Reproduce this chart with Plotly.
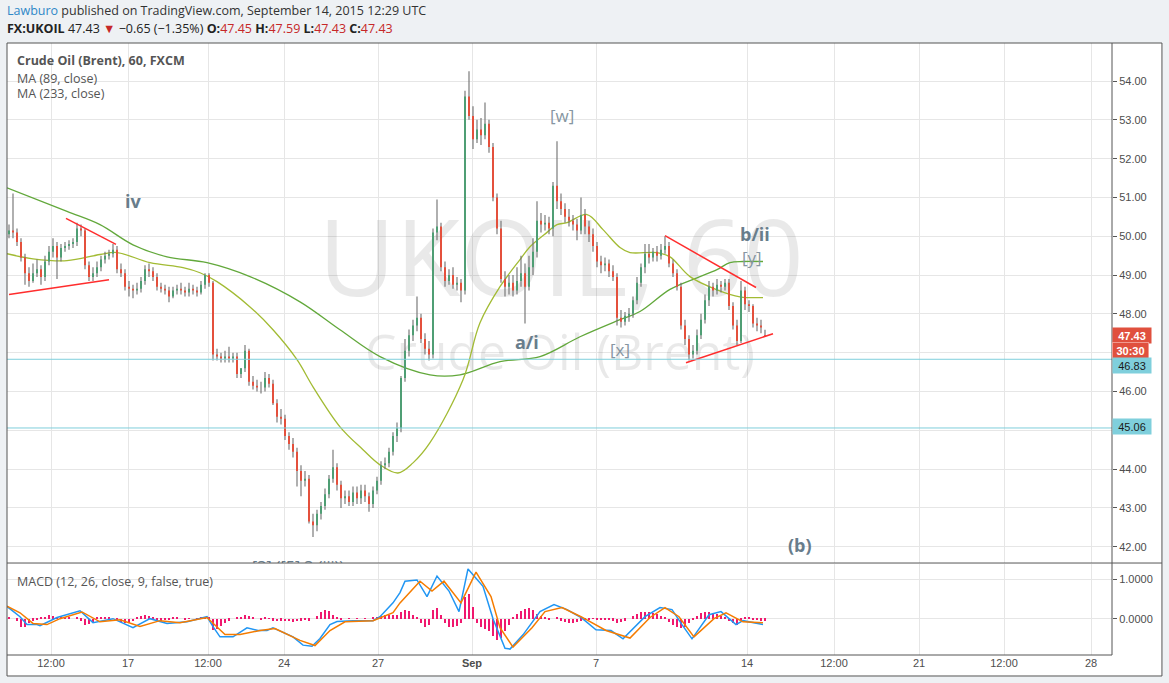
import plotly.graph_objects as go

# ---------------- data ----------------
closes = [50.15, 50.10, 49.85, 49.45, 49.05, 48.85, 49.05, 49.15, 48.95, 49.35,
          49.60, 49.75, 49.45, 49.70, 49.75, 49.80, 49.85, 50.20, 50.15, 49.25,
          48.95, 49.05, 49.20, 49.40, 49.50, 49.55, 49.65, 49.15, 49.05, 48.70,
          48.65, 48.60, 48.65, 48.85, 49.15, 49.10, 48.95, 48.70, 48.65, 48.60,
          48.45, 48.60, 48.65, 48.60, 48.55, 48.65, 48.60, 48.55, 48.75, 49.00,
          48.80, 46.95, 46.90, 46.85, 46.90, 46.85, 46.90, 46.45, 46.60, 47.05,
          46.25, 46.15, 46.10, 46.10, 46.35, 46.20, 45.70, 45.35, 45.30, 44.85,
          44.65, 44.45, 43.95, 43.70, 43.75, 42.65, 42.55, 42.85, 43.05, 43.35,
          43.75, 44.05, 43.60, 43.25, 43.30, 43.15, 43.40, 43.25, 43.45, 43.30,
          43.10, 43.45, 43.70, 44.10, 44.15, 44.45, 44.85, 45.05, 46.35, 47.05,
          47.45, 47.70, 47.90, 47.35, 47.10, 46.95, 50.10, 50.25, 49.20, 48.85,
          49.00, 48.75, 48.80, 48.60, 53.60, 53.10, 52.50, 52.75, 52.60, 52.90,
          52.30, 51.00, 50.20, 48.90, 48.70, 48.80, 48.60, 48.85, 49.05, 48.70,
          49.20, 49.60, 50.40, 50.30, 50.35, 50.20, 51.30, 50.90, 50.70, 50.50,
          50.40, 50.30, 50.15, 50.55, 50.25, 50.05, 49.75, 49.35, 49.25, 49.30,
          49.10, 48.95, 47.90, 47.80, 47.95, 48.00, 48.35, 48.80, 49.20, 49.55,
          49.45, 49.60, 49.50, 49.65, 49.75, 49.30, 49.05, 48.70, 47.70, 47.35,
          46.95, 47.05, 47.45, 47.85, 48.35, 48.70, 48.60, 48.75, 48.70, 48.80,
          48.20, 47.70, 47.30, 48.60, 48.25, 48.20, 47.75, 47.70, 47.65, 47.43]

opens = [50.05, 50.15, 50.10, 49.85, 49.45, 49.05, 48.85, 49.05, 49.15, 48.95,
         49.35, 49.60, 49.75, 49.45, 49.70, 49.75, 49.80, 49.85, 50.20, 50.15,
         49.25, 48.95, 49.05, 49.20, 49.40, 49.50, 49.55, 49.65, 49.15, 49.05,
         48.70, 48.65, 48.60, 48.65, 48.85, 49.15, 49.10, 48.95, 48.70, 48.65,
         48.60, 48.45, 48.60, 48.65, 48.60, 48.55, 48.65, 48.60, 48.55, 48.75,
         49.00, 48.80, 46.95, 46.90, 46.85, 46.90, 46.85, 46.90, 46.45, 46.60,
         47.05, 46.25, 46.15, 46.10, 46.10, 46.35, 46.20, 45.70, 45.35, 45.30,
         44.85, 44.65, 44.45, 43.95, 43.70, 43.75, 42.65, 42.55, 42.85, 43.05,
         43.35, 43.75, 44.05, 43.60, 43.25, 43.30, 43.15, 43.40, 43.25, 43.45,
         43.30, 43.10, 43.45, 43.70, 44.10, 44.15, 44.45, 44.85, 45.05, 46.35,
         47.05, 47.45, 47.70, 47.90, 47.35, 47.10, 46.95, 50.10, 50.25, 49.20,
         48.85, 49.00, 48.75, 48.80, 48.60, 53.60, 53.10, 52.50, 52.75, 52.60,
         52.90, 52.30, 51.00, 50.20, 48.90, 48.70, 48.80, 48.60, 48.85, 49.05,
         48.70, 49.20, 49.60, 50.40, 50.30, 50.35, 50.20, 51.30, 50.90, 50.70,
         50.50, 50.40, 50.30, 50.15, 50.55, 50.25, 50.05, 49.75, 49.35, 49.25,
         49.30, 49.10, 48.95, 47.90, 47.80, 47.95, 48.00, 48.35, 48.80, 49.20,
         49.55, 49.45, 49.60, 49.50, 49.65, 49.75, 49.30, 49.05, 48.70, 47.70,
         47.35, 46.95, 47.05, 47.45, 47.85, 48.35, 48.70, 48.60, 48.75, 48.70,
         48.80, 48.20, 47.70, 47.30, 48.60, 48.25, 48.20, 47.75, 47.70, 47.45]

highs = [50.30, 51.10, 50.20, 49.95, 49.55, 49.20, 49.30, 49.40, 49.25, 49.50,
         49.75, 49.95, 49.85, 49.80, 49.85, 49.90, 49.95, 50.35, 50.30, 50.20,
         49.35, 49.20, 49.35, 49.50, 49.60, 49.65, 49.80, 49.75, 49.30, 49.15,
         48.85, 48.75, 48.80, 48.95, 49.25, 49.30, 49.20, 49.05, 48.80, 48.75,
         48.70, 48.70, 48.75, 48.80, 48.70, 48.80, 48.75, 48.70, 48.85, 49.05,
         49.05, 48.85, 47.10, 47.00, 47.05, 47.15, 47.00, 47.00, 46.60, 47.20,
         47.10, 46.40, 46.30, 46.25, 46.50, 46.45, 46.30, 45.80, 45.55, 45.40,
         44.95, 44.80, 44.55, 44.10, 43.95, 43.85, 42.85, 42.95, 43.15, 43.50,
         43.85, 44.50, 44.15, 43.70, 43.45, 43.45, 43.55, 43.55, 43.60, 43.60,
         43.40, 43.55, 43.80, 44.20, 44.30, 44.55, 44.95, 45.20, 46.40, 47.35,
         47.60, 47.85, 48.45, 48.00, 47.50, 47.30, 50.20, 50.95, 50.35, 49.35,
         49.15, 49.20, 48.95, 48.90, 53.75, 54.25, 53.35, 53.00, 53.05, 53.45,
         53.00, 52.40, 51.10, 50.40, 49.10, 49.00, 49.00, 49.20, 49.50, 49.30,
         49.50, 49.95, 50.90, 50.60, 50.55, 50.50, 51.40, 52.45, 51.10, 50.85,
         50.70, 50.55, 50.45, 51.00, 50.70, 50.40, 50.20, 49.85, 49.50, 49.45,
         49.40, 49.25, 49.05, 48.10, 48.05, 48.15, 48.45, 48.95, 49.30, 49.80,
         49.80, 49.70, 49.75, 49.80, 50.00, 49.85, 49.40, 49.15, 48.80, 47.85,
         47.45, 47.20, 47.60, 48.00, 48.50, 48.85, 48.80, 48.90, 48.85, 48.90,
         48.90, 48.30, 47.85, 48.85, 48.70, 48.35, 48.25, 47.90, 47.85, 47.59]

lows = [49.95, 49.95, 49.75, 49.35, 48.75, 48.70, 48.80, 48.95, 48.75, 48.85,
        49.25, 49.45, 48.90, 49.35, 49.60, 49.65, 49.70, 49.75, 50.00, 49.15,
        48.85, 48.85, 48.95, 49.10, 49.30, 49.40, 49.45, 49.05, 48.95, 48.60,
        48.45, 48.40, 48.50, 48.55, 48.75, 48.95, 48.85, 48.60, 48.55, 48.50,
        48.30, 48.40, 48.50, 48.50, 48.45, 48.45, 48.50, 48.45, 48.50, 48.65,
        48.70, 46.80, 46.80, 46.75, 46.75, 46.75, 46.75, 46.35, 46.35, 46.50,
        46.15, 46.05, 46.00, 45.95, 46.00, 46.10, 45.65, 45.20, 45.15, 44.75,
        44.50, 44.30, 43.55, 43.30, 43.55, 42.60, 42.25, 42.40, 42.70, 42.95,
        43.25, 43.65, 43.45, 43.00, 43.10, 43.05, 43.05, 43.10, 43.10, 43.15,
        42.90, 43.00, 43.35, 43.60, 44.00, 44.05, 44.35, 44.70, 44.95, 46.25,
        46.90, 47.30, 47.55, 47.25, 46.95, 46.80, 46.85, 49.90, 49.10, 48.70,
        48.75, 48.65, 48.60, 48.30, 48.50, 53.00, 52.25, 52.40, 52.35, 52.50,
        52.15, 50.90, 50.05, 48.80, 48.45, 48.50, 48.45, 48.50, 48.70, 47.75,
        48.60, 49.00, 49.45, 50.10, 50.15, 50.05, 50.00, 50.70, 50.55, 50.35,
        50.25, 50.15, 49.90, 50.05, 50.05, 49.85, 49.60, 49.20, 49.05, 49.10,
        48.95, 48.85, 47.70, 47.65, 47.70, 47.80, 47.90, 48.25, 48.70, 49.05,
        49.30, 49.35, 49.35, 49.40, 49.55, 49.20, 48.95, 48.60, 47.60, 47.20,
        46.80, 46.85, 46.95, 47.35, 47.75, 48.20, 48.45, 48.50, 48.55, 48.60,
        48.10, 47.60, 47.20, 47.25, 48.10, 48.05, 47.65, 47.55, 47.50, 47.43]

candle_idx = list(range(len(closes)))

ma233_x = [-0.5, 14.5, 22.75, 31, 39.5, 49.5, 60.25, 72.75, 82.75, 92.75, 105.25,
           112.75, 122.75, 132.75, 142.75, 152.75, 157.75, 165.25, 172, 177, 180.25,
           183.5, 188.5]
ma233_v = [51.25, 50.64, 50.30, 49.78, 49.47, 49.32, 48.96, 48.31, 47.59, 46.90, 46.43,
           46.43, 46.77, 46.90, 47.41, 47.85, 48.06, 48.63, 48.93, 49.14, 49.32,
           49.35, 49.35]

ma89_x = [-0.5, 6, 14.5, 22.75, 27, 35.25, 43.5, 47.75, 52, 60.25, 66, 72, 76, 82.75,
          88.5, 92.75, 97.25, 101, 105.25, 113.5, 117.75, 122.75, 127.75, 130.25,
          134.5, 137, 139.5, 144.5, 148.5, 152.75, 155.25, 162, 165.25, 170.25, 177,
          182.75, 188.5]
ma89_v = [49.55, 49.42, 49.37, 49.53, 49.58, 49.32, 49.19, 49.06, 48.83, 48.18, 47.59,
          46.82, 46.12, 45.09, 44.50, 44.11, 43.90, 44.16, 44.68, 46.30, 47.77, 48.70,
          49.40, 49.73, 50.10, 50.30, 50.35, 50.56, 50.17, 49.71, 49.58, 49.58, 49.47,
          48.96, 48.62, 48.44, 48.42]

macd_x = [-0.5, 2.75, 4.5, 7, 7.75, 12, 17.75, 21, 26, 31, 35.25, 39.5, 44.5, 49.5, 51,
          52.75, 56, 59.5, 62.25, 64.5, 66, 71, 73.5, 75.75, 77.75, 80.25, 82, 86, 91,
          92.75, 96, 97.75, 99, 102, 104.5, 107, 110, 112.5, 114.75, 118.5, 121, 124,
          125.25, 128.5, 132.75, 136.25, 139.5, 143, 146.75, 150.5, 153.5, 159, 162.75,
          165.75, 168.25, 170.75, 175, 178, 181.75, 183.5, 188.5]
macd_v = [0.31, 0.05, -0.15, -0.15, -0.18, 0.03, 0.2, -0.1, 0.0, -0.23, 0.0, -0.12, -0.08,
          0.05, -0.2, -0.46, -0.46, -0.23, -0.3, -0.3, -0.23, -0.46, -0.67, -0.7, -0.5,
          -0.15, -0.07, -0.05, -0.05, 0.05, 0.4, 0.66, 0.95, 0.98, 0.56, 1.08, 0.7, 0.18,
          1.26, 0.82, 0.0, -0.75, -0.77, -0.41, 0.18, 0.36, 0.23, 0.03, -0.28, -0.3,
          -0.51, 0.05, 0.28, 0.23, -0.15, -0.51, 0.1, 0.18, -0.15, -0.05, -0.15]

signal_x = [-0.5, 2.75, 6, 9.5, 12.75, 18.25, 22.75, 27.75, 32.75, 37.75, 42.75, 49.5, 54,
            57.75, 62.75, 66.5, 72.75, 76.5, 80.25, 84, 91, 96, 97.75, 102.75, 105.75,
            108.75, 113, 116.75, 120.5, 122.75, 126, 130.75, 134, 138.25, 143, 149.25,
            155.25, 160.25, 164, 167.5, 171.25, 176.25, 179.25, 183.5, 188.5]
signal_v = [0.32, 0.15, -0.12, -0.15, 0.0, 0.17, -0.08, -0.03, -0.2, -0.05, -0.1, 0.03,
            -0.4, -0.4, -0.3, -0.25, -0.55, -0.68, -0.3, -0.08, -0.05, 0.15, 0.4, 0.95,
            0.7, 0.95, 0.4, 1.18, 0.56, -0.23, -0.72, -0.23, 0.18, 0.28, 0.05, -0.3,
            -0.49, 0.03, 0.28, 0.05, -0.46, 0.0, 0.15, -0.08, -0.1]

hist_v = [0.02, 0.0, -0.05, -0.2, -0.22, -0.1, -0.05, -0.02, 0.02, 0.05,
          0.1, 0.08, 0.04, 0.05, 0.04, 0.02, 0.0, 0.03, -0.05, -0.15,
          -0.14, -0.08, 0.03, 0.05, 0.04, 0.02, 0.0, -0.05, -0.08, -0.1,
          -0.1, -0.06, 0.02, 0.08, 0.1, 0.06, 0.02, -0.04, -0.05, -0.04,
          -0.03, 0.02, 0.02, 0.0, -0.02, 0.01, 0.0, -0.01, 0.02, 0.04,
          0.02, -0.28, -0.26, -0.18, -0.1, -0.05, 0.0, 0.03, 0.04, 0.1,
          0.06, 0.02, 0.0, -0.02, 0.02, 0.01, -0.05, -0.06, -0.05, -0.07,
          -0.06, -0.08, -0.07, -0.05, -0.03, -0.05, 0.0, 0.08, 0.18, 0.23,
          0.2, 0.1, 0.02, -0.02, 0.0, 0.01, 0.0, 0.01, 0.0, 0.01,
          0.0, 0.02, 0.04, 0.08, 0.1, 0.1, 0.09, 0.1, 0.18, 0.23,
          0.2, 0.1, 0.05, -0.1, -0.2, -0.15, 0.22, 0.28, 0.1, -0.1,
          -0.2, -0.2, -0.18, -0.1, 0.55, 0.62, 0.3, -0.1, -0.2, -0.25,
          -0.3, -0.45, -0.54, -0.5, -0.3, -0.15, 0.05, 0.12, 0.2, 0.25,
          0.28, 0.22, 0.12, 0.06, 0.02, -0.02, 0.0, 0.02, -0.05, -0.08,
          -0.1, -0.1, -0.08, -0.05, -0.02, -0.01, 0.01, -0.02, -0.03, -0.02,
          -0.04, -0.05, -0.1, -0.09, -0.05, 0.0, 0.06, 0.12, 0.16, 0.18,
          0.16, 0.15, 0.12, 0.06, 0.02, -0.08, -0.15, -0.2, -0.23, -0.2,
          -0.12, -0.04, 0.06, 0.14, 0.18, 0.18, 0.15, 0.12, 0.08, 0.02,
          -0.06, -0.12, -0.15, -0.05, 0.04, 0.02, -0.03, -0.04, -0.05, -0.05]

tick_pos = [10.5, 29.75, 49.75, 68.75, 92.25, 115.75, 146.75, 184.5, 206.25, 227.5, 248.75, 270.5]
tick_text = ["12:00", "17", "12:00", "24", "27", "<b>Sep</b>", "7", "14", "12:00", "21", "12:00", "28"]

levels = [46.83, 45.06]
level_text = ["46.83", "45.06"]

trend_x0 = [0, 14.25, 164, 169.25]
trend_y0 = [48.50, 50.46, 50.015, 46.74]
trend_x1 = [25, 26.75, 186.75, 191]
trend_y1 = [48.88, 49.79, 48.68, 47.49]

wave_text = ["iv", "[w]", "b/ii", "[y]", "a/i", "[x]", "(b)"]
wave_x = [31.0, 138.25, 186.5, 185.75, 129.5, 152.75, 197.75]
wave_y = [50.90, 53.12, 50.07, 49.45, 47.28, 47.08, 42.04]
wave_bold = [True, False, True, False, True, False, True]

cut_label = "[3] ([5].3 (iii))"
cut_x, cut_y = 72.25, 41.42

last_price = 47.43
countdown = "30:30"

# ---------------- styles ----------------
GREEN = "#4f9e74"
RED = "#e4503c"
WICK = "#6e6e6e"
WAVE = "#687d8c"
WAVE_LIGHT = "#8696a2"
AXIS = "#555555"
GRID = "#e6e6e6"
FONT = "Open Sans"
TICKFONT = dict(family="Liberation Sans", size=11, color="#4d4d4d")

fig = go.Figure()

# watermark
fig.add_trace(go.Scatter(x=[138, 137.75], y=[49.14, 46.87], mode="text",
                         text=["UKOIL, 60", "Crude Oil (Brent)"],
                         textfont=dict(family=FONT, size=[106, 50], color="rgba(0,0,0,0.085)"),
                         hoverinfo="skip", showlegend=False, xaxis="x", yaxis="y"))

# MACD histogram and lines
fig.add_trace(go.Bar(x=candle_idx, y=hist_v, width=0.45, marker=dict(color="#f0186e", line_width=0),
                     xaxis="x2", yaxis="y2", showlegend=False))
fig.add_trace(go.Scatter(x=macd_x, y=macd_v, mode="lines", line=dict(color="#2196f3", width=1.5),
                         xaxis="x2", yaxis="y2", showlegend=False))
fig.add_trace(go.Scatter(x=signal_x, y=signal_v, mode="lines", line=dict(color="#f57c00", width=1.5),
                         xaxis="x2", yaxis="y2", showlegend=False))

# moving averages
fig.add_trace(go.Scatter(x=ma233_x, y=ma233_v, mode="lines", line=dict(color="#62a83b", width=1.3, shape="spline"),
                         xaxis="x", yaxis="y", showlegend=False))
fig.add_trace(go.Scatter(x=ma89_x, y=ma89_v, mode="lines", line=dict(color="#a2bb33", width=1.3, shape="spline"),
                         xaxis="x", yaxis="y", showlegend=False))

# candles: wicks then bodies
wx, wy = [], []
ux, uy, dx, dy = [], [], [], []
for i, o, h, l, c in zip(candle_idx, opens, highs, lows, closes):
    wx += [i, i, None]
    wy += [l, h, None]
    if c >= o:
        ux += [i, i, None]
        uy += [o, c, None]
    else:
        dx += [i, i, None]
        dy += [o, c, None]
fig.add_trace(go.Scatter(x=wx, y=wy, mode="lines", line=dict(color=WICK, width=1.1),
                         xaxis="x", yaxis="y", showlegend=False, hoverinfo="skip"))
fig.add_trace(go.Scatter(x=ux, y=uy, mode="lines", line=dict(color=GREEN, width=2),
                         xaxis="x", yaxis="y", showlegend=False, hoverinfo="skip"))
fig.add_trace(go.Scatter(x=dx, y=dy, mode="lines", line=dict(color=RED, width=2),
                         xaxis="x", yaxis="y", showlegend=False, hoverinfo="skip"))

# red trend lines
tx, ty = [], []
for a, b, c2, d in zip(trend_x0, trend_y0, trend_x1, trend_y1):
    tx += [a, c2, None]
    ty += [b, d, None]
fig.add_trace(go.Scatter(x=tx, y=ty, mode="lines", line=dict(color="#ff2d2d", width=1.5),
                         xaxis="x", yaxis="y", showlegend=False, hoverinfo="skip"))

# clipped label at the bottom of the price pane
fig.add_trace(go.Scatter(x=[cut_x], y=[cut_y], mode="text", text=[cut_label], cliponaxis=True,
                         textfont=dict(family=FONT, size=16, color=WAVE), textposition="middle center",
                         xaxis="x", yaxis="y", showlegend=False, hoverinfo="skip"))

# ---------------- layout ----------------
PRICE_DOM = [0.1503, 1.0]
MACD_DOM = [0.0, 0.1487]
XR = [-0.5, 275.75]
FR = 1.0452   # right edge of white frame (paper)
FB = -0.0343  # bottom edge of white frame (paper)

shapes = [
    dict(type="rect", xref="paper", yref="paper", x0=0, x1=FR, y0=FB, y1=1,
         fillcolor="white", line_width=0, layer="below"),
]
for lv in levels:
    shapes.append(dict(type="line", xref="x domain", yref="y", x0=0, x1=1, y0=lv, y1=lv,
                       line=dict(color="#7fcfdc", width=1), layer="above"))
edge = dict(color=AXIS, width=1)
shapes += [
    dict(type="line", xref="paper", yref="paper", x0=0, x1=FR, y0=1, y1=1, line=edge),
    dict(type="line", xref="paper", yref="paper", x0=0, x1=0, y0=FB, y1=1, line=edge),
    dict(type="line", xref="paper", yref="paper", x0=FR, x1=FR, y0=FB, y1=1, line=edge),
    dict(type="line", xref="paper", yref="paper", x0=0, x1=FR, y0=FB, y1=FB, line=edge),
    dict(type="line", xref="paper", yref="paper", x0=1, x1=1, y0=0, y1=1, line=edge),
    dict(type="line", xref="paper", yref="paper", x0=0, x1=1, y0=0, y1=0, line=edge),
    dict(type="line", xref="paper", yref="paper", x0=0, x1=FR, y0=PRICE_DOM[0], y1=PRICE_DOM[0], line=edge),
]

annotations = []
# header
annotations.append(dict(xref="paper", yref="paper", x=-0.0018, y=1.0523, xanchor="left", yanchor="middle",
                        showarrow=False, align="left",
                        text="<span style='color:#2f88c8'>Lawburo</span> published on TradingView.com, September 14, 2015 12:29 UTC",
                        font=dict(family=FONT, size=12.5, color="#333333")))
R = "#c62828"
annotations.append(dict(xref="paper", yref="paper", x=-0.0018, y=1.0229, xanchor="left", yanchor="middle",
                        showarrow=False, align="left",
                        text=("<b>FX:UKOIL</b> 47.43 <span style='color:%s'>▼</span> −0.65 (−1.35%%) "
                              "<b>O:</b><span style='color:%s'>47.45</span> <b>H:</b><span style='color:%s'>47.59</span> "
                              "<b>L:</b><span style='color:%s'>47.43</span> <b>C:</b><span style='color:%s'>47.43</span>") % (R, R, R, R, R),
                        font=dict(family=FONT, size=12.5, color="#222222")))
# pane titles
for txt, yy, bold in [("Crude Oil (Brent), 60, FXCM", 0.9722, True), ("MA (89, close)", 0.9428, False),
                      ("MA (233, close)", 0.9167, False), ("MACD (12, 26, close, 9, false, true)", 0.1209, False)]:
    annotations.append(dict(xref="paper", yref="paper", x=0.0068, y=yy, xanchor="left", yanchor="middle",
                            showarrow=False, text=("<b>%s</b>" % txt) if bold else txt,
                            font=dict(family=FONT, size=12.5, color="#555555")))
# wave labels
for t, xx, yy, b in zip(wave_text, wave_x, wave_y, wave_bold):
    annotations.append(dict(xref="x", yref="y", x=xx, y=yy, showarrow=False,
                            text=("<b>%s</b>" % t) if b else t,
                            font=dict(family=FONT, size=18 if b else 17, color=WAVE if b else WAVE_LIGHT)))
# price scale labels
annotations.append(dict(xref="paper", yref="y", x=1.0, y=last_price, xanchor="left", yanchor="middle",
                        showarrow=False, text="<b>%.2f</b>" % last_price, bgcolor="#e0503e", width=36, height=13,
                        borderpad=1, font=dict(family="Liberation Sans", size=11, color="white")))
annotations.append(dict(xref="paper", yref="y", x=1.0, y=last_price, yshift=-15, xanchor="left", yanchor="middle",
                        showarrow=False, text="<b>%s</b>" % countdown, bgcolor="#e0503e", width=33, height=13,
                        borderpad=1, bordercolor="#f19a90", font=dict(family="Liberation Sans", size=11, color="white")))
for lv, lt, sh in zip(levels, level_text, [-6, 1]):
    annotations.append(dict(xref="paper", yref="y", x=1.0, y=lv, yshift=sh, xanchor="left", yanchor="middle",
                            showarrow=False, text=lt, bgcolor="#7fcfdc", width=36, height=13, borderpad=1,
                            font=dict(family="Liberation Sans", size=11, color="#1a1a1a")))

fig.update_layout(
    width=1169, height=683,
    margin=dict(l=7, r=57, t=43, b=28),
    paper_bgcolor="#eef1f4", plot_bgcolor="white",
    showlegend=False, bargap=0,
    xaxis=dict(domain=[0, 1], anchor="y", range=XR, tickvals=tick_pos, showticklabels=False,
               showgrid=True, gridcolor=GRID, zeroline=False, ticks="", fixedrange=True),
    xaxis2=dict(domain=[0, 1], anchor="y2", range=XR, tickvals=tick_pos, ticktext=tick_text,
                showgrid=True, gridcolor=GRID, zeroline=False, ticks="", tickfont=TICKFONT, matches="x"),
    yaxis=dict(domain=PRICE_DOM, anchor="x", side="right", range=[41.58, 54.98], dtick=1, tick0=42,
               tickformat=".2f", ticks="outside", ticklen=4, tickcolor=AXIS, tickfont=TICKFONT,
               showgrid=True, gridcolor=GRID, zeroline=False),
    yaxis2=dict(domain=MACD_DOM, anchor="x2", side="right", range=[-0.92, 1.385], tickvals=[0, 1],
                ticktext=["0.0000", "1.0000"], ticks="outside", ticklen=4, tickcolor=AXIS, tickfont=TICKFONT,
                showgrid=True, gridcolor=GRID, zeroline=False),
    shapes=shapes, annotations=annotations,
)

fig.write_html("out.html", config={"displayModeBar": False},
               post_script="document.body.style.margin='0';document.body.style.background='#eef1f4';")
